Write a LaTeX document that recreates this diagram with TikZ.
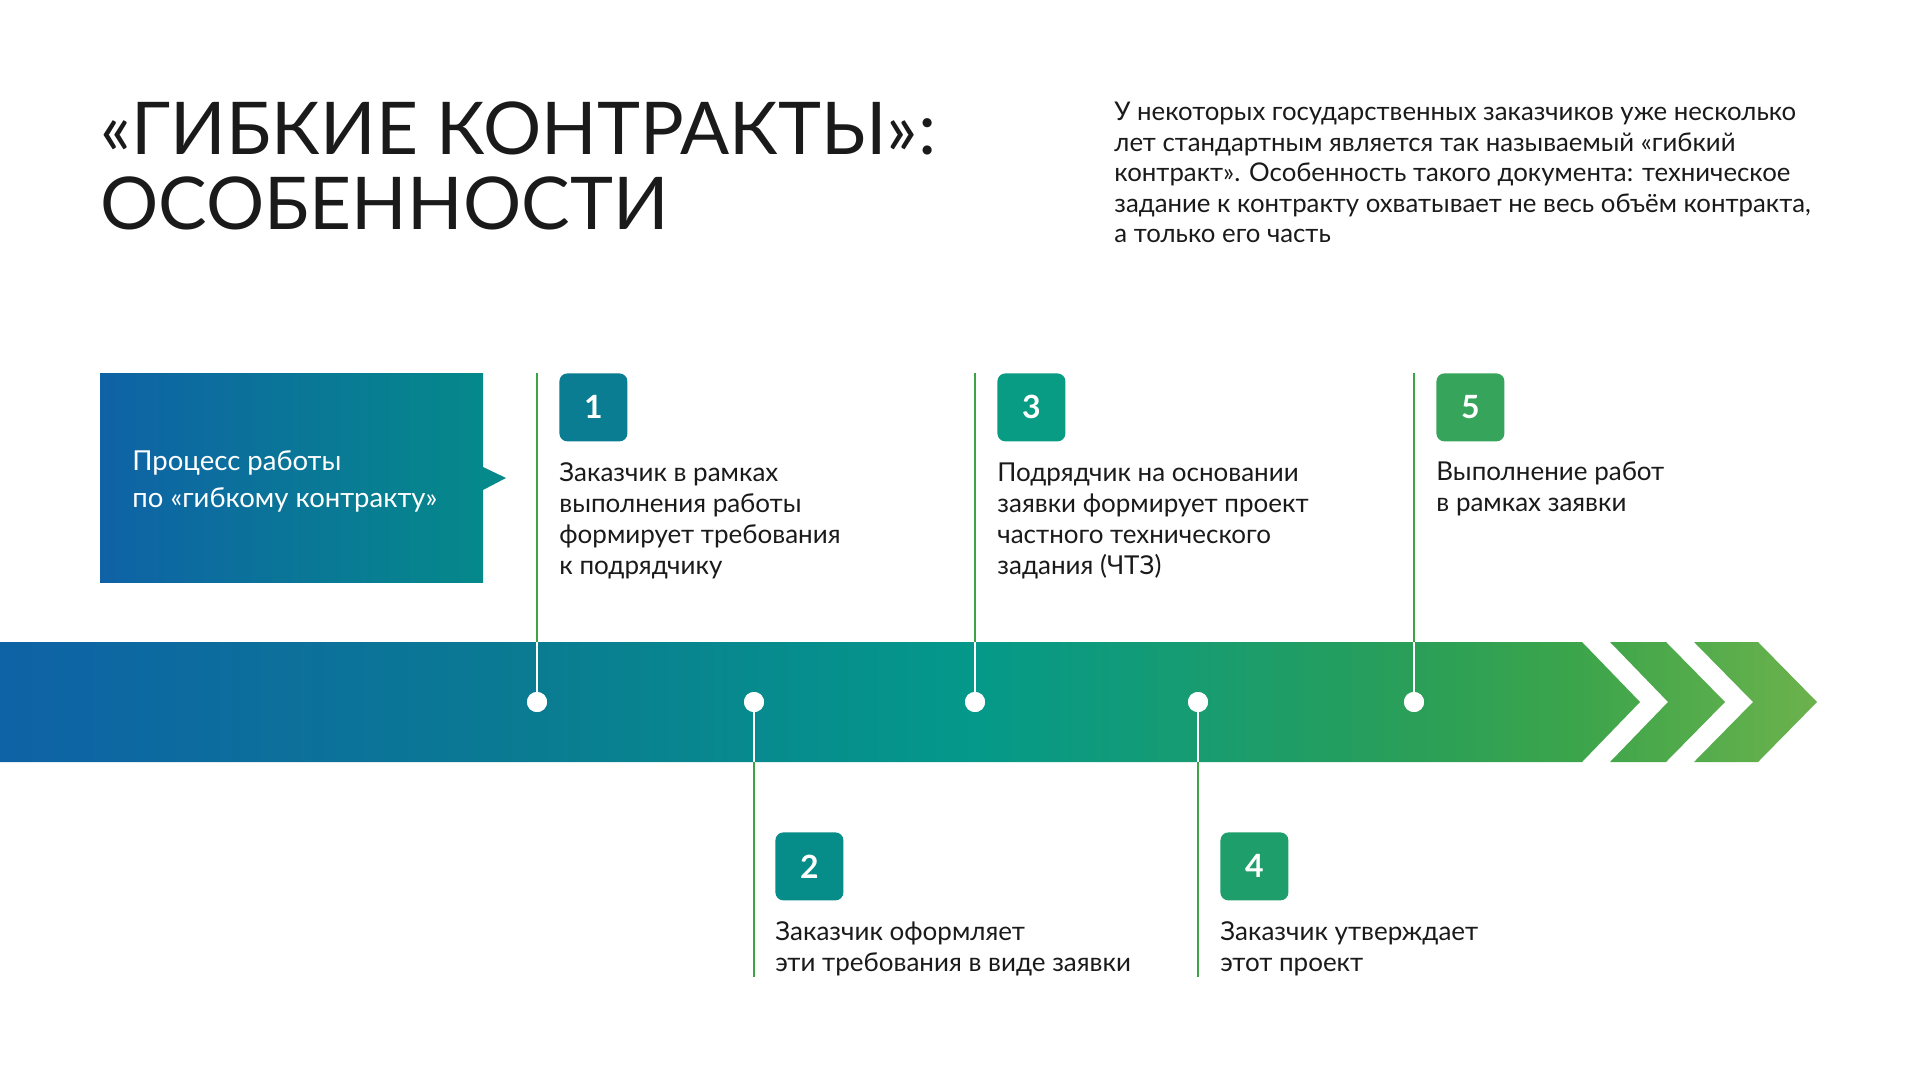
\documentclass[tikz,border=0pt]{standalone}
\usepackage{fontspec}
\setmainfont{Lato}
\usetikzlibrary{positioning}
\usepackage{xcolor}

\definecolor{inkgray}{HTML}{1A1A1A}
\definecolor{stemgreen}{HTML}{3DA446}
\definecolor{bandA}{HTML}{0E62A6}
\definecolor{bandB}{HTML}{0A7C92}
\definecolor{bandC}{HTML}{04998A}
\definecolor{bandD}{HTML}{2A9F58}
\definecolor{bandE}{HTML}{3CA54B}
\definecolor{bandF}{HTML}{6CB24C}
\definecolor{boxA}{HTML}{0F62A6}
\definecolor{boxB}{HTML}{05898A}
\definecolor{numA}{HTML}{0B7D92}
\definecolor{numB}{HTML}{068C89}
\definecolor{numC}{HTML}{089C84}
\definecolor{numD}{HTML}{1E9E6A}
\definecolor{numE}{HTML}{36A45A}

\pgfdeclarehorizontalshading{bandshade}{100bp}{color(0bp)=(bandA); color(25bp)=(bandA); color(39.9bp)=(bandB); color(51.8bp)=(bandC); color(63.9bp)=(bandD); color(68.5bp)=(bandE); color(75bp)=(bandF); color(100bp)=(bandF)}

\tikzset{
  numbox/.style={anchor=north west, minimum width=34pt, minimum height=34pt, inner sep=0pt,
    rounded corners=4pt, text=white, font=\bfseries\fontsize{16}{16}\selectfont},
  steptext/.style={anchor=base west, align=left, inner sep=0pt, text=inkgray,
    font=\fontsize{13}{15.5}\selectfont},
  tdot/.style={circle, fill=white, minimum size=10pt, inner sep=0pt},
  stemline/.style={draw=stemgreen, line width=1pt},
  inband/.style={draw=white, line width=1pt}
}

\begin{document}
\begin{tikzpicture}[x=0.5pt,y=-0.5pt]
\useasboundingbox (0,0) rectangle (1920,1080);

% heading and intro (anchored on the last line)
\node[anchor=base west, align=left, inner sep=0pt, text=inkgray,
  font=\fontsize{36.4}{37.5}\selectfont] (title) at (100,230)
  {«ГИБКИЕ КОНТРАКТЫ»:\\ОСОБЕННОСТИ};
\node[anchor=base west, align=left, inner sep=0pt, text=inkgray,
  font=\fontsize{12.9}{15.3}\selectfont] (intro) at (1114,243)
  {У некоторых государственных заказчиков уже несколько\\
   лет стандартным является так называемый «гибкий\\
   контракт». Особенность такого документа: техническое\\
   задание к контракту охватывает не весь объём контракта,\\
   а только его часть};

% process box
\fill[left color=boxA, right color=boxB] (100,373) rectangle (483,582);
\fill[boxB] (483,467) -- (506,478) -- (483,490) -- cycle;
\node[anchor=base west, align=left, inner sep=0pt, text=white,
  font=\fontsize{13.75}{18.5}\selectfont] (proc) at (132,507)
  {Процесс работы\\по «гибкому контракту»};

% band with chevrons
\shade[shading=bandshade]
  (0,642) -- (1582,642) -- (1640,702) -- (1582,762) -- (0,762) -- cycle
  (1610,642) -- (1666,642) -- (1725,702) -- (1666,762) -- (1610,762) -- (1668,702) -- cycle
  (1694,642) -- (1758,642) -- (1817,702) -- (1758,762) -- (1694,762) -- (1753,702) -- cycle;
\coordinate (bandtop) at (0,642);
\coordinate (bandbot) at (0,762);

% dots on the band
\node[tdot] (d1) at (537,702) {};
\node[tdot] (d2) at (754,702) {};
\node[tdot] (d3) at (975,702) {};
\node[tdot] (d4) at (1198,702) {};
\node[tdot] (d5) at (1414,702) {};

% stems
\coordinate (top1) at (537,373);
\coordinate (top3) at (975,373);
\coordinate (top5) at (1414,373);
\coordinate (end2) at (754,977);
\coordinate (end4) at (1198,977);
\draw[stemline] (top1) -- (d1 |- bandtop);
\draw[stemline] (top3) -- (d3 |- bandtop);
\draw[stemline] (top5) -- (d5 |- bandtop);
\draw[stemline] (d2 |- bandbot) -- (end2);
\draw[stemline] (d4 |- bandbot) -- (end4);
\draw[inband] (d1 |- bandtop) -- (d1.center);
\draw[inband] (d3 |- bandtop) -- (d3.center);
\draw[inband] (d5 |- bandtop) -- (d5.center);
\draw[inband] (d2.center) -- (d2 |- bandbot);
\draw[inband] (d4.center) -- (d4 |- bandbot);
\node[tdot] at (d1) {};
\node[tdot] at (d2) {};
\node[tdot] at (d3) {};
\node[tdot] at (d4) {};
\node[tdot] at (d5) {};

% steps (texts anchored on their last line)
\node[numbox, fill=numA] (n1) at (559,373) {1};
\node[steptext] (t1) at (559,574)
  {Заказчик в рамках\\выполнения работы\\формирует требования\\к подрядчику};
\node[numbox, fill=numB] (n2) at (775,832) {2};
\node[steptext] (t2) at (775,971)
  {Заказчик оформляет\\эти требования в виде заявки};
\node[numbox, fill=numC] (n3) at (997,373) {3};
\node[steptext] (t3) at (997,574)
  {Подрядчик на основании\\заявки формирует проект\\частного технического\\задания (ЧТЗ)};
\node[numbox, fill=numD] (n4) at (1220,832) {4};
\node[steptext] (t4) at (1220,971)
  {Заказчик утверждает\\этот проект};
\node[numbox, fill=numE] (n5) at (1436,373) {5};
\node[steptext] (t5) at (1436,511)
  {Выполнение работ\\в рамках заявки};
\end{tikzpicture}
\end{document}
